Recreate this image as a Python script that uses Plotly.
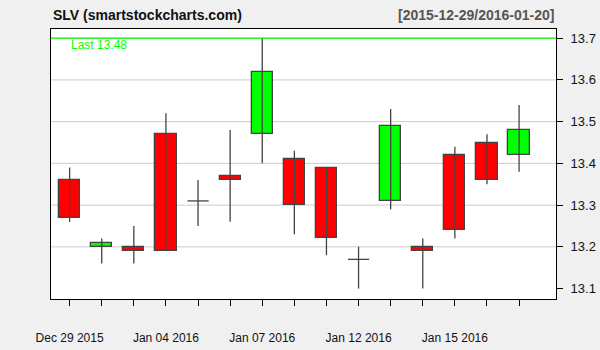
import plotly.graph_objects as go

dates = ["Dec 29 2015", "Dec 30 2015", "Dec 31 2015", "Jan 04 2016", "Jan 05 2016",
         "Jan 06 2016", "Jan 07 2016", "Jan 08 2016", "Jan 11 2016", "Jan 12 2016",
         "Jan 13 2016", "Jan 14 2016", "Jan 15 2016", "Jan 19 2016", "Jan 20 2016"]
opens = [13.36, 13.20, 13.20, 13.47, 13.31, 13.37, 13.47, 13.41, 13.39, 13.17, 13.31, 13.20, 13.42, 13.45, 13.42]
highs = [13.39, 13.22, 13.25, 13.52, 13.36, 13.48, 13.70, 13.43, 13.39, 13.20, 13.53, 13.22, 13.44, 13.47, 13.54]
lows = [13.26, 13.16, 13.16, 13.19, 13.25, 13.26, 13.40, 13.23, 13.18, 13.10, 13.29, 13.10, 13.22, 13.35, 13.38]
closes = [13.27, 13.21, 13.19, 13.19, 13.31, 13.36, 13.62, 13.30, 13.22, 13.17, 13.49, 13.19, 13.24, 13.36, 13.48]
label_idx = [0, 3, 6, 9, 12]
y_ticks = [13.1, 13.2, 13.3, 13.4, 13.5, 13.6, 13.7]
last_price = 13.48
last_line_level = 13.7

n = len(dates)
xs = list(range(n))
body_w = 0.66
edge = "#444444"

fig = go.Figure()

# grid lines (except the bottom tick)
for v in y_ticks[1:]:
    fig.add_shape(type="line", xref="paper", x0=0, x1=1, yref="y", y0=v, y1=v,
                  line=dict(color="#cccccc", width=1), layer="below")

# wicks
wx, wy = [], []
for i in xs:
    wx += [i, i, None]
    wy += [lows[i], highs[i], None]
fig.add_trace(go.Scatter(x=wx, y=wy, mode="lines", line=dict(color=edge, width=1.3),
                         hoverinfo="skip", showlegend=False))

# bodies
for up in (True, False):
    bx, bb, bh = [], [], []
    for i in xs:
        if opens[i] == closes[i]:
            continue
        if (closes[i] > opens[i]) == up:
            bx.append(i)
            bb.append(min(opens[i], closes[i]))
            bh.append(abs(closes[i] - opens[i]))
    fig.add_trace(go.Bar(x=bx, y=bh, base=bb, width=body_w,
                         marker=dict(color="#00ff00" if up else "#ff0000",
                                     line=dict(color=edge, width=1.3)),
                         showlegend=False))

# doji
dx, dy = [], []
for i in xs:
    if opens[i] == closes[i]:
        dx += [i - body_w / 2, i + body_w / 2, None]
        dy += [opens[i], opens[i], None]
fig.add_trace(go.Scatter(x=dx, y=dy, mode="lines", line=dict(color=edge, width=1.3),
                         hoverinfo="skip", showlegend=False))

# last line
fig.add_shape(type="line", xref="paper", x0=0, x1=1, yref="y", y0=last_line_level, y1=last_line_level,
              line=dict(color="#00ff00", width=1.2))
fig.add_annotation(text=f"Last {last_price:.2f}", xref="paper", yref="y", x=0.036, y=last_line_level,
                   xanchor="left", yanchor="top", showarrow=False, yshift=2,
                   font=dict(family="Liberation Sans, Arial", size=12, color="#00ff00"))

fig.add_annotation(text="<b>SLV (smartstockcharts.com)</b>", xref="paper", yref="paper",
                   x=0, y=1, xanchor="left", yanchor="bottom", yshift=4, showarrow=False,
                   font=dict(family="Liberation Sans, Arial", size=14, color="#111111"))
fig.add_annotation(text="<b>[2015-12-29/2016-01-20]</b>", xref="paper", yref="paper",
                   x=1, y=1, xanchor="right", yanchor="bottom", yshift=4, showarrow=False,
                   font=dict(family="Liberation Sans, Arial", size=14, color="#555555"))

ticktext = [dates[i] if i in label_idx else "" for i in xs]

fig.update_layout(
    width=600, height=350,
    margin=dict(l=51, r=44, t=29, b=51),
    paper_bgcolor="#f0f0f0", plot_bgcolor="#ffffff",
    barmode="overlay", bargap=0,
    font=dict(family="Liberation Sans, Arial", size=12, color="#111111"),
    xaxis=dict(range=[-0.58, 15.15], tickmode="array", tickvals=xs, ticktext=ticktext,
               ticks="outside", ticklen=6, tickcolor="#000", showgrid=False, zeroline=False,
               showline=True, linecolor="#000", linewidth=1, mirror=True, automargin=False,
               ticklabelstandoff=22, tickfont=dict(size=12)),
    yaxis=dict(range=[13.075, 13.722], side="right", tickmode="array", tickvals=y_ticks,
               ticktext=[f"{v:.1f}" for v in y_ticks],
               ticks="outside", ticklen=6, tickcolor="#000", showgrid=False, zeroline=False,
               showline=True, linecolor="#000", linewidth=1, mirror=True, automargin=False,
               ticklabelstandoff=5, tickfont=dict(size=13)),
)

fig.write_html("out.html")
